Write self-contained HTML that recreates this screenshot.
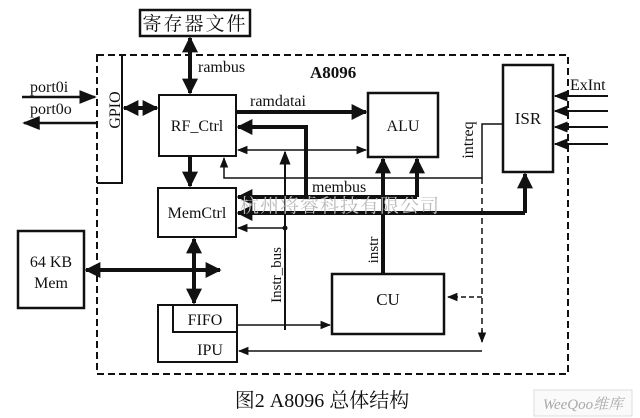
<!DOCTYPE html>
<html><head><meta charset="utf-8"><style>
html,body{margin:0;padding:0;background:#fff;}
svg{display:block}
text{font-family:"Liberation Serif","Noto Serif CJK SC",serif;fill:#111}
</style></head><body>
<svg width="640" height="418" viewBox="0 0 640 418" xmlns="http://www.w3.org/2000/svg">
<defs>
<marker id="a" viewBox="0 0 10 10" refX="9" refY="5" markerWidth="4" markerHeight="4" orient="auto-start-reverse"><path d="M0,0L10,5L0,10z" fill="#111"/></marker>
<marker id="s" viewBox="0 0 10 10" refX="9" refY="5" markerWidth="7" markerHeight="7" orient="auto-start-reverse"><path d="M0,1L10,5L0,9z" fill="#111"/></marker>
</defs>
<g fill="none" stroke="#111">
<rect x="140" y="10" width="110" height="26" stroke-width="2.5"/>
<rect x="97" y="55" width="471" height="319" stroke-width="2" stroke-dasharray="7,4"/>
<polyline points="122,55 122,183 97,183" stroke-width="2"/>
<rect x="159" y="95" width="77" height="61" stroke-width="2"/>
<rect x="368" y="93" width="70" height="64" stroke-width="2.5"/>
<rect x="503" y="65" width="50" height="107" stroke-width="2.5"/>
<rect x="158" y="188" width="78" height="49" stroke-width="2"/>
<rect x="18" y="231" width="66" height="77" stroke-width="2.5"/>
<rect x="158" y="305" width="79" height="57" stroke-width="2"/>
<polyline points="173,305 173,332 237,332" stroke-width="2"/>
<rect x="332" y="274" width="112" height="60" stroke-width="2.5"/>
<!-- arrows -->
<line x1="190" y1="38" x2="190" y2="93" stroke-width="4" marker-start="url(#a)" marker-end="url(#a)"/>
<line x1="22" y1="97" x2="95" y2="97" stroke-width="2.5" marker-end="url(#s)"/>
<line x1="97" y1="123" x2="24" y2="123" stroke-width="2.5" marker-end="url(#s)"/>
<line x1="124" y1="108" x2="157" y2="108" stroke-width="4" marker-start="url(#a)" marker-end="url(#a)"/>
<line x1="236" y1="112" x2="366" y2="112" stroke-width="4" marker-end="url(#a)"/>
<line x1="238" y1="150" x2="366" y2="150" stroke-width="1.5" marker-start="url(#s)" marker-end="url(#s)"/>
<polyline points="306,197 306,127 238,127" stroke-width="4" marker-end="url(#a)"/>
<line x1="190" y1="156" x2="190" y2="186" stroke-width="4" marker-end="url(#a)"/>
<polyline points="503,124 482,124 482,178 224,178 224,158" stroke-width="1.5" marker-end="url(#s)"/>
<polyline points="482,178 482,340" stroke-width="1.5" stroke-dasharray="6,4"/>
<line x1="482" y1="297" x2="448" y2="297" stroke-width="1.5" stroke-dasharray="5,3" marker-end="url(#s)"/>
<line x1="482" y1="330" x2="482" y2="342" stroke-width="1.5" marker-end="url(#s)"/>
<line x1="482" y1="351" x2="239" y2="351" stroke-width="1.5" marker-end="url(#s)"/>
<line x1="417" y1="197" x2="238" y2="197" stroke-width="4" marker-end="url(#a)"/>
<line x1="417" y1="197" x2="417" y2="159" stroke-width="4" marker-end="url(#a)"/>
<polyline points="525,213 525,174" stroke-width="4" marker-end="url(#a)"/>
<line x1="525" y1="213" x2="238" y2="213" stroke-width="4" marker-end="url(#a)"/>
<line x1="383" y1="274" x2="383" y2="159" stroke-width="4" marker-end="url(#a)"/>
<line x1="285" y1="330" x2="285" y2="152" stroke-width="2" marker-end="url(#s)"/>
<line x1="285" y1="228" x2="238" y2="228" stroke-width="1.5" marker-end="url(#s)"/>
<line x1="86" y1="270" x2="220" y2="270" stroke-width="4" marker-start="url(#a)" marker-end="url(#a)"/>
<line x1="194" y1="239" x2="194" y2="303" stroke-width="4" marker-start="url(#a)" marker-end="url(#a)"/>
<line x1="237" y1="325" x2="330" y2="325" stroke-width="1.5" marker-end="url(#s)"/>
<line x1="285" y1="325" x2="285" y2="330" stroke-width="2"/>
<line x1="608" y1="96" x2="555" y2="96" stroke-width="2" marker-end="url(#s)"/>
<line x1="608" y1="111" x2="555" y2="111" stroke-width="2" marker-end="url(#s)"/>
<line x1="608" y1="127" x2="555" y2="127" stroke-width="2" marker-end="url(#s)"/>
<line x1="608" y1="144" x2="555" y2="144" stroke-width="2" marker-end="url(#s)"/>
</g>
<circle cx="285" cy="228" r="2.5" fill="#111"/>
<text x="195" y="30" font-size="19" text-anchor="middle" font-family="Noto Sans CJK SC,sans-serif" letter-spacing="2">寄存器文件</text>
<text x="198" y="72" font-size="16">rambus</text>
<text x="310" y="78" font-size="17" font-weight="bold" font-family="Liberation Sans,sans-serif">A8096</text>
<text x="30" y="92" font-size="16">port0i</text>
<text x="30" y="114" font-size="16">port0o</text>
<text transform="translate(120,110) rotate(-90)" font-size="16" text-anchor="middle">GPIO</text>
<text x="197" y="131" font-size="16" text-anchor="middle">RF_Ctrl</text>
<text x="250" y="106" font-size="16">ramdatai</text>
<text x="403" y="131" font-size="16" text-anchor="middle">ALU</text>
<text x="528" y="124" font-size="17" text-anchor="middle">ISR</text>
<text x="570" y="90" font-size="16">ExInt</text>
<text transform="translate(473,140) rotate(-90)" font-size="16" text-anchor="middle">intreq</text>
<text x="312" y="192" font-size="16">membus</text>
<text x="197" y="218" font-size="16" text-anchor="middle">MemCtrl</text>
<text x="51" y="267" font-size="16" text-anchor="middle">64 KB</text>
<text x="51" y="288" font-size="16" text-anchor="middle">Mem</text>
<text transform="translate(281,275) rotate(-90)" font-size="15" text-anchor="middle">Instr_bus</text>
<text transform="translate(378,250) rotate(-90)" font-size="15" text-anchor="middle">instr</text>
<text x="205" y="325" font-size="16" text-anchor="middle">FIFO</text>
<text x="210" y="355" font-size="16" text-anchor="middle">IPU</text>
<text x="388" y="305" font-size="17" text-anchor="middle">CU</text>
<text x="240" y="212" font-size="19" fill="#bbb" style="fill:#bbb" font-family="Noto Sans CJK SC,sans-serif" letter-spacing="1">杭州将睿科技有限公司</text>
<text x="322" y="407" font-size="20" text-anchor="middle" font-family="Liberation Serif,Noto Serif CJK SC,serif">图2  A8096 总体结构</text>
<rect x="534" y="390" width="98" height="26" fill="#fafafa" stroke="#ddd"/>
<text x="583" y="409" font-size="15" text-anchor="middle" style="fill:#aaa" font-family="Liberation Sans,Noto Sans CJK SC,sans-serif" font-style="italic">WeeQoo维库</text>
</svg>
</body></html>
